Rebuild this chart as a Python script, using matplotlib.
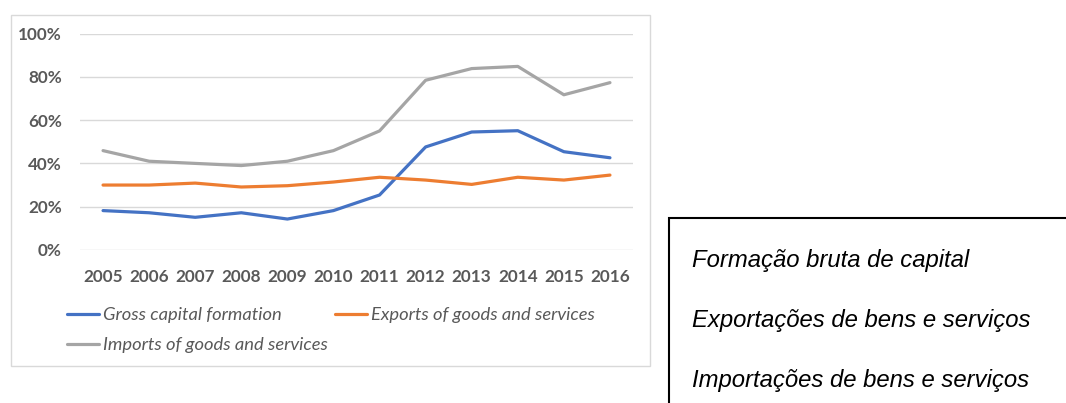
import matplotlib.pyplot as plt
from matplotlib.patches import Rectangle

# Data (share of GDP)
years = ['2005', '2006', '2007', '2008', '2009', '2010',
         '2011', '2012', '2013', '2014', '2015', '2016']
gross_capital = [0.182, 0.172, 0.151, 0.172, 0.143, 0.182,
                 0.254, 0.476, 0.545, 0.551, 0.454, 0.426]
exports = [0.300, 0.300, 0.309, 0.291, 0.297, 0.314,
           0.336, 0.323, 0.303, 0.336, 0.323, 0.346]
imports = [0.459, 0.410, 0.400, 0.390, 0.410, 0.459,
           0.550, 0.784, 0.838, 0.848, 0.717, 0.773]
labels_en = ['Gross capital formation', 'Exports of goods and services',
             'Imports of goods and services']
labels_pt = ['Formação bruta de capital', 'Exportações de bens e serviços',
             'Importações de bens e serviços']
colors = ['#4472C4', '#ED7D31', '#A5A5A5']

W, H = 1066, 403
fig = plt.figure(figsize=(W / 100, H / 100), dpi=100)

# chart frame
fig.patches.append(Rectangle((11 / W, 1 - 366 / H), 639 / W, 351 / H,
                             transform=fig.transFigure, fill=False,
                             edgecolor='#d9d9d9', linewidth=1))

ax = fig.add_axes([80 / W, 1 - 250 / H, 553 / W, 216.5 / H])
x = range(len(years))
lines = []
for vals, c, lab in zip([gross_capital, exports, imports], colors, labels_en):
    l, = ax.plot(x, vals, color=c, linewidth=2.3, label=lab,
                 solid_capstyle='round', solid_joinstyle='round')
    lines.append(l)

ax.set_xlim(-0.5, len(years) - 0.5)
ax.set_ylim(0, 1.0)
ax.set_yticks([0, 0.2, 0.4, 0.6, 0.8, 1.0])
ax.set_yticklabels(['0%', '20%', '40%', '60%', '80%', '100%'])
ax.set_xticks(list(x))
ax.set_xticklabels(years)
for s in ax.spines.values():
    s.set_visible(False)
ax.grid(axis='y', color='#d9d9d9', linewidth=1)
ax.set_axisbelow(True)
ax.tick_params(length=0, labelcolor='#595959')
ax.tick_params(axis='y', pad=13)
ax.tick_params(axis='x', pad=14)
for t in ax.get_xticklabels() + ax.get_yticklabels():
    t.set_fontfamily('Lato')
    t.set_fontweight('bold')
    t.set_fontsize(12.3)

# legend, row-major order like the original
leg = fig.legend([lines[0], lines[2], lines[1]],
                 [labels_en[0], labels_en[2], labels_en[1]],
                 ncol=2, loc='upper left', bbox_to_anchor=(58 / W, 1 - 298 / H),
                 frameon=False, borderpad=0, handlelength=1.75,
                 handletextpad=0.2, columnspacing=0.4, labelspacing=0.75,
                 prop={'family': 'Lato', 'style': 'italic', 'size': 13.2})
for t in leg.get_texts():
    t.set_color('#595959')

# Portuguese label box
fig.patches.append(Rectangle((669 / W, -0.05), 0.5, 1.05 - 218 / H,
                             transform=fig.transFigure, fill=False,
                             edgecolor='black', linewidth=1.5))
for i, lab in enumerate(labels_pt):
    fig.text(692 / W, 1 - (260 + 60 * i) / H, lab, family='Liberation Sans',
             style='italic', fontsize=17.2, va='center', ha='left')

fig.savefig('out.png', dpi=100)
